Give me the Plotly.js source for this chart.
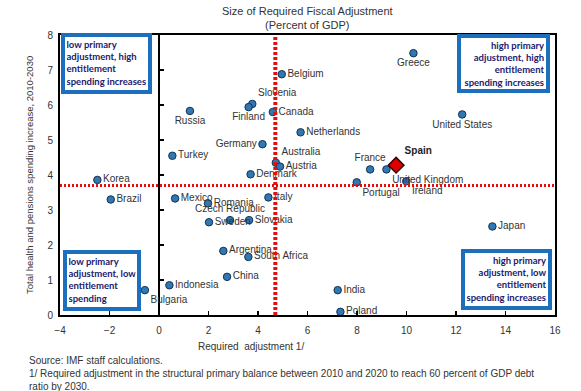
<!DOCTYPE html>
<html>
<head>
<meta charset="utf-8">
<script src="https://cdn.plot.ly/plotly-3.0.1.min.js"></script>
<style>
html,body{margin:0;padding:0;background:#fff;}
#chart{width:581px;height:391px;}
</style>
</head>
<body>
<div id="chart"></div>
<script>
// ---- data ----
const countries = ["Belgium","Slovenia","Finland","Russia","Canada","Netherlands","Germany","Turkey",
  "Australia","Austria","Denmark","Greece","United States","France","United Kingdom","Portugal",
  "Ireland","Japan","India","Poland","Korea","Brazil","Mexico","Romania","Italy","Czech Republic",
  "Sweden","Slovakia","Argentina","South Africa","China","Indonesia","Bulgaria"];
const requiredAdjustment = [4.96,3.77,3.62,1.25,4.6,5.72,4.18,0.54,
  4.72,4.89,3.70,10.28,12.25,8.53,9.19,7.99,
  9.99,13.47,7.22,7.33,-2.49,-1.95,0.65,1.98,4.42,2.87,
  2.02,3.64,2.6,3.61,2.75,0.42,-0.57];
const spendingIncrease = [6.88,6.03,5.94,5.83,5.8,5.22,4.88,4.55,
  4.35,4.24,4.02,7.48,5.73,4.16,4.16,3.79,
  3.82,2.53,0.71,0.09,3.86,3.3,3.33,3.19,3.36,2.71,
  2.65,2.71,1.83,1.66,1.09,0.85,0.71];
const labelPositions = ["middle right","top right","bottom center","bottom center","middle right","middle right","middle left","middle right",
  "top right","middle right","middle right","bottom center","bottom center","top center","bottom right","bottom right",
  "bottom right","middle right","middle right","middle right","middle right","middle right","middle right","middle right","middle right","top center",
  "middle right","middle right","middle right","middle right","middle right","middle right","bottom right"];
const highlightName = "Spain";
const highlightX = [9.58];
const highlightY = [4.28];
const avgAdjustment = 4.7;
const avgSpending = 3.7;
const xTicks = [-4,-2,0,2,4,6,8,10,12,14,16];
const yTicks = [0,1,2,3,4,5,6,7,8];

const FONT = "Liberation Sans, Arial, sans-serif";
const BOXFONT = {family:"Lato, sans-serif", size:9.5, color:"#20206e", weight:"bold"};

const traces = [
  {
    type:"scatter", mode:"markers+text",
    x: requiredAdjustment, y: spendingIncrease, text: countries,
    textposition: labelPositions,
    textfont:{family:FONT, size:10, color:"#333"},
    marker:{size:7.5, color:"#2f78b4", line:{color:"#16324f", width:1}},
    cliponaxis:false, hoverinfo:"text", showlegend:false
  },
  {
    type:"scatter", mode:"markers+text",
    x: highlightX, y: highlightY, text:["<b>"+highlightName+"</b>"],
    textposition:"top right",
    textfont:{family:FONT, size:10, color:"#222"},
    marker:{symbol:"diamond", size:12, color:"#e00000", line:{color:"#3a0000", width:1.5}},
    yaxis:"y2", cliponaxis:false, showlegend:false
  }
];

const boxBase = {xref:"paper", yref:"paper", xanchor:"left", yanchor:"top", valign:"top",
  borderwidth:4, borderpad:1.5, bordercolor:"#1c6ebf", bgcolor:"#fff", font:BOXFONT, showarrow:false};

const layout = {
  width:581, height:391,
  margin:{l:60, r:26, t:35, b:76, pad:0},
  paper_bgcolor:"#fff", plot_bgcolor:"#fff",
  font:{family:FONT, size:10, color:"#333"},
  xaxis:{range:[-4,16], tickvals:xTicks, ticks:"inside", ticklen:4, tickwidth:1.5, tickcolor:"#000",
    showline:true, mirror:true, linecolor:"#000", linewidth:2,
    zeroline:true, zerolinecolor:"#000", zerolinewidth:2, showgrid:false,
    tickfont:{family:FONT, size:10, color:"#333"}, ticklabelstandoff:5, fixedrange:true},
  yaxis:{range:[0,8], tickvals:yTicks, ticks:"", showline:true, mirror:true, linecolor:"#000", linewidth:2,
    zeroline:false, showgrid:false, tickfont:{family:FONT, size:10, color:"#333"}, ticklabelstandoff:3, fixedrange:true},
  yaxis2:{range:[0,8], tickvals:yTicks, overlaying:"y", anchor:"free", position:0.2, side:"left",
    ticks:"inside", ticklen:4, tickwidth:1.5, tickcolor:"#000", showticklabels:false,
    showline:false, zeroline:false, showgrid:false, fixedrange:true},
  shapes:[
    {type:"line", xref:"x", yref:"paper", x0:avgAdjustment, x1:avgAdjustment, y0:0, y1:1,
      line:{color:"#e01010", width:4, dash:"3px,2px"}, layer:"above"},
    {type:"line", xref:"paper", yref:"y", x0:0, x1:1, y0:avgSpending, y1:avgSpending,
      line:{color:"#e01010", width:3, dash:"2px,2px"}, layer:"above"}
  ],
  annotations:[
    Object.assign({}, boxBase, {x:0.002, y:1.007, width:80, height:50, align:"left",
      text:"low primary<br>adjustment, high<br>entitlement<br>spending increases"}),
    Object.assign({}, boxBase, {x:0.802, y:1.004, width:82, height:48, align:"right",
      text:"high primary<br>adjustment, high<br>entitlement<br>spending increases"}),
    Object.assign({}, boxBase, {x:0.006, y:0.232, width:67, height:50, align:"left",
      text:"low primary<br>adjustment, low<br>entitlement<br>spending"}),
    Object.assign({}, boxBase, {x:0.81, y:0.236, width:80, height:50, align:"right",
      text:"high primary<br>adjustment, low<br>entitlement<br>spending increases"}),
    {xref:"paper", yref:"paper", x:0.5, y:1.114, xanchor:"center", yanchor:"top",
      text:"Size of Required Fiscal Adjustment<br>(Percent of GDP)", showarrow:false,
      font:{family:FONT, size:11, color:"#333"}},
    {xref:"paper", yref:"paper", x:0.386, y:-0.114, xanchor:"center", yanchor:"middle",
      text:"Required  adjustment 1/", showarrow:false, font:{family:FONT, size:10, color:"#333"}},
    {xref:"paper", yref:"paper", x:-0.0626, y:0.5, xanchor:"center", yanchor:"middle", textangle:-90,
      text:"Total health and pensions spending increase, 2010-2030", showarrow:false, font:{family:FONT, size:9.5, color:"#333"}},
    {xref:"paper", yref:"paper", x:-0.0667, y:-0.136, xanchor:"left", yanchor:"top", align:"left",
      text:"Source: IMF staff calculations.<br>1/ Required adjustment in the structural primary balance between 2010 and 2020 to reach 60 percent of GDP debt<br>ratio by 2030.",
      showarrow:false, font:{family:FONT, size:10, color:"#333"}}
  ]
};

Plotly.newPlot("chart", traces, layout, {displayModeBar:false, staticPlot:true});
</script>
</body>
</html>
